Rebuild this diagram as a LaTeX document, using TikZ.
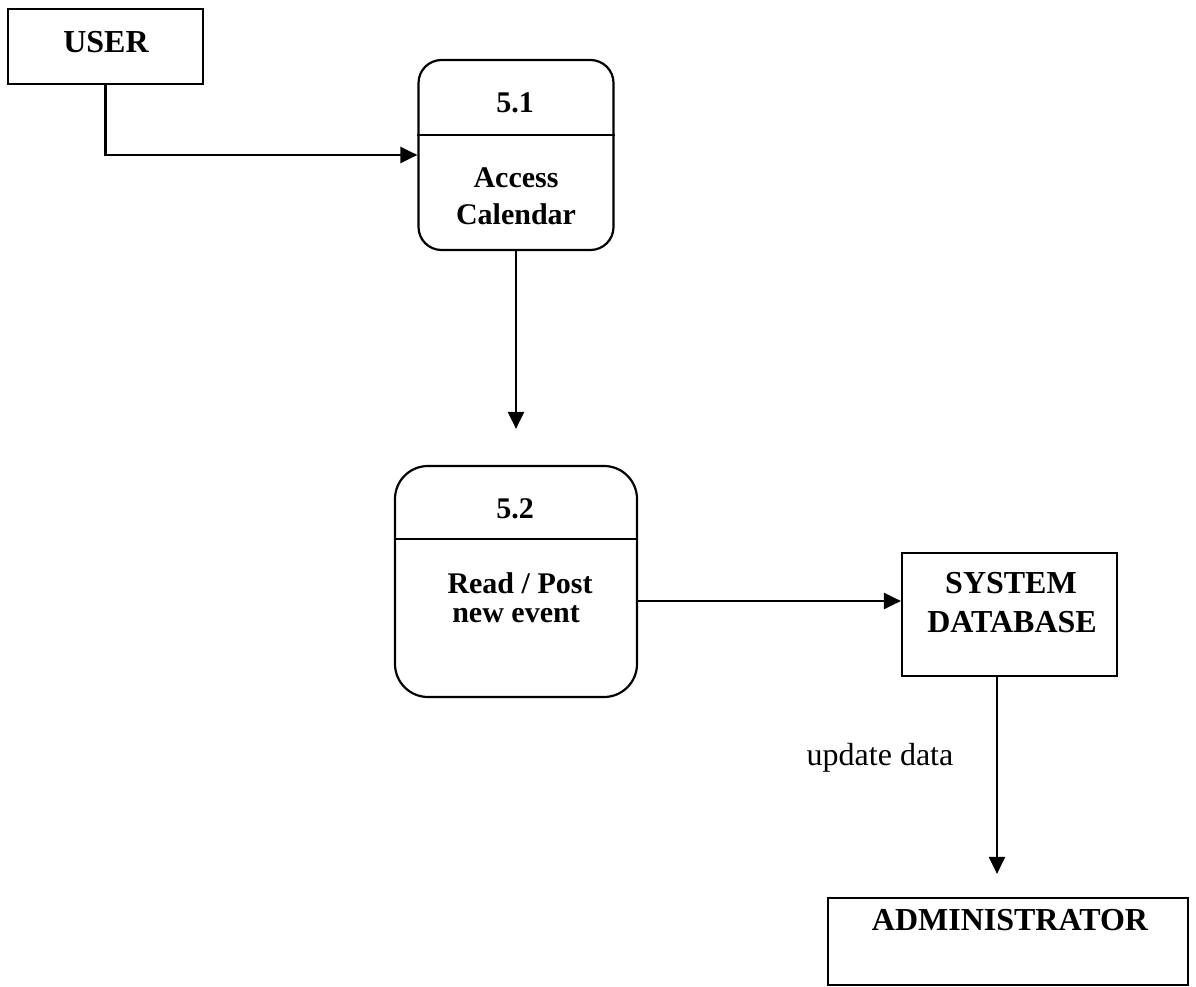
\documentclass[tikz,border=0pt]{standalone}
\usepackage{fontspec}
\setmainfont{Liberation Serif}
\usetikzlibrary{arrows.meta}
\begin{document}
\begin{tikzpicture}[x=1pt,y=-1pt,
  ent/.style={draw, line width=2.2pt, rectangle, inner sep=0pt},
  proc/.style={draw, line width=2.2pt, rectangle, rounded corners=#1, inner sep=0pt},
  big/.style={font=\fontsize{32}{38}\selectfont\bfseries, inner sep=0pt, anchor=base},
  mid/.style={font=\fontsize{30}{36}\selectfont\bfseries, inner sep=0pt, anchor=base},
  flow/.style={line width=2.2pt, -{Triangle[length=17pt,width=16pt]}},
]
\useasboundingbox (0,0) rectangle (1196,987);

% external entity: user
\node[ent, minimum width=195pt, minimum height=75pt] (usr) at (105.5,46.5) {};
\node[big] (usrtxt) at (106,53) {USER};

% process 5.1
\node[proc=23pt, minimum width=195pt, minimum height=190pt] (p51) at (516,155) {};
\draw[line width=2pt] ([yshift=-76pt]p51.north west) -- ([yshift=-76pt]p51.north east);
\node[mid] (t51) at (515,113) {5.1};
\node[mid] (t51a) at (516,188) {Access};
\node[mid] (t51b) at (516,225) {Calendar};

% process 5.2
\node[proc=33pt, minimum width=242pt, minimum height=231pt] (p52) at (516,581.5) {};
\draw[line width=2pt] ([yshift=-74pt]p52.north west) -- ([yshift=-74pt]p52.north east);
\node[mid] (t52) at (515,518) {5.2};
\node[mid] (t52a) at (520,593) {Read / Post};
\node[mid] (t52b) at (516,622) {new event};

% data store
\node[ent, minimum width=215pt, minimum height=123pt] (sdb) at (1009.5,614.5) {};
\node[big] (sdbt1) at (1011,593) {SYSTEM};
\node[big] (sdbt2) at (1012,632) {DATABASE};

% external entity: administrator
\node[ent, minimum width=360pt, minimum height=87pt] (adm) at (1008,941.5) {};
\node[big] (admt) at (1010,930) {ADMINISTRATOR};

% flow label
\node[font=\fontsize{32}{38}\selectfont, inner sep=0pt, anchor=base] (upd) at (880,765) {update data};

% data flows
\draw[flow] (usr) |- (p51);
\draw[flow, shorten >=36pt] (p51.south) -- (p51.south |- p52.north);
\coordinate (dbin) at ([yshift=-19.5pt]p52.east);
\draw[flow] (dbin) -- (dbin -| sdb.west);
\coordinate (admfeed) at ([xshift=-12.5pt]sdb.south);
\draw[flow, shorten >=23pt] (admfeed) -- (admfeed |- adm.north);
\end{tikzpicture}
\end{document}
